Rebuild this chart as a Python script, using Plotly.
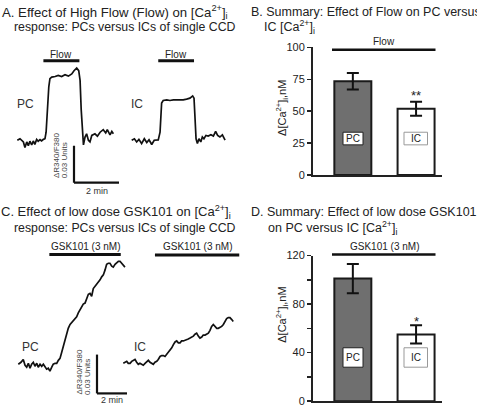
import plotly.graph_objects as go

W, H = 477, 413

# ---------------- data ----------------
# Panel A: high flow; time (min) vs ΔR340/F380 (ratio units)
a_pc_t = [0.00, 0.12, 0.27, 0.34, 0.42, 0.49, 0.56, 0.64, 0.71, 0.78,
          0.86, 0.93, 1.01, 1.08, 1.16, 1.23, 1.28, 1.33, 1.40, 1.45,
          1.53, 1.68, 1.82, 1.97, 2.12, 2.27, 2.42, 2.52, 2.64, 2.73,
          2.79, 2.84, 2.91, 2.94, 3.01, 3.08, 3.16, 3.23, 3.31, 3.45,
          3.56, 3.68, 3.82, 3.93, 4.00, 4.12, 4.20, 4.27]
a_pc_r = [0.0013, 0.0026, 0.0000, -0.0045, 0.0000, -0.0030, 0.0006, -0.0025, 0.0008, -0.0020,
          0.0021, 0.0006, 0.0018, 0.0008, 0.0021, 0.0026, 0.0079, 0.0263, 0.0448, 0.0514,
          0.0527, 0.0532, 0.0540, 0.0532, 0.0547, 0.0535, 0.0553, 0.0579, 0.0600, 0.0579,
          0.0500, 0.0263, 0.0053, -0.0024, 0.0040, 0.0066, 0.0013, 0.0000, 0.0053, 0.0066,
          0.0047, 0.0079, 0.0100, 0.0073, 0.0100, 0.0058, 0.0085, 0.0066]
a_ic_t = [0.00, 0.12, 0.22, 0.32, 0.44, 0.56, 0.67, 0.77, 0.89, 1.00,
          1.18, 1.26, 1.33, 1.40, 1.56, 1.70, 1.85, 2.00, 2.15, 2.29,
          2.44, 2.59, 2.71, 2.77, 2.81, 2.86, 2.92, 2.99, 3.07, 3.14,
          3.21, 3.30, 3.40, 3.52, 3.63, 3.73, 3.82, 3.92, 4.03, 4.15]
a_ic_r = [0.0006, 0.0018, -0.0008, 0.0013, -0.0021, 0.0018, -0.0013, 0.0010, -0.0029, 0.0006,
          0.0008, 0.0071, 0.0308, 0.0329, 0.0334, 0.0329, 0.0334, 0.0332, 0.0334, 0.0334,
          0.0340, 0.0348, 0.0366, 0.0348, 0.0203, 0.0018, -0.0021, 0.0018, -0.0008, 0.0032,
          0.0018, 0.0045, 0.0040, 0.0050, 0.0040, 0.0077, 0.0045, 0.0032, 0.0050, 0.0006]
a_flow_pc = [1.16, 2.76]
a_flow_ic = [1.18, 2.77]

# Panel C: low dose GSK101
c_pc_t = [0.00, 0.18, 0.33, 0.45, 0.56, 0.67, 0.78, 0.89, 1.00, 1.11,
          1.23, 1.33, 1.45, 1.56, 1.67, 1.78, 1.89, 2.00, 2.11, 2.23,
          2.33, 2.45, 2.56, 2.67, 2.78, 2.89, 3.00, 3.11, 3.23, 3.33,
          3.45, 3.56, 3.67, 3.78, 3.89, 4.00, 4.11, 4.23, 4.33, 4.45,
          4.56, 4.67, 4.78, 4.89, 5.00, 5.11, 5.23, 5.33, 5.45, 5.56,
          5.67, 5.78, 5.89, 6.00, 6.11, 6.23, 6.33, 6.45, 6.56, 6.67,
          6.78, 6.89, 7.00, 7.11]
c_pc_r = [0.0008, 0.0023, 0.0045, 0.0000, -0.0015, 0.0015, -0.0023, 0.0008, 0.0023, -0.0008,
          0.0015, -0.0015, 0.0008, -0.0008, 0.0008, -0.0015, -0.0030, -0.0023, -0.0045, -0.0015,
          0.0008, 0.0015, 0.0015, 0.0038, 0.0053, 0.0098, 0.0150, 0.0203, 0.0248, 0.0285,
          0.0315, 0.0330, 0.0338, 0.0360, 0.0375, 0.0405, 0.0428, 0.0450, 0.0473, 0.0480,
          0.0510, 0.0548, 0.0555, 0.0533, 0.0593, 0.0608, 0.0623, 0.0645, 0.0660, 0.0683,
          0.0698, 0.0735, 0.0780, 0.0788, 0.0788, 0.0765, 0.0758, 0.0780, 0.0795, 0.0803,
          0.0803, 0.0788, 0.0773, 0.0758]
c_ic_t = [0.00, 0.11, 0.23, 0.33, 0.45, 0.56, 0.67, 0.78, 0.89, 1.00,
          1.11, 1.23, 1.33, 1.45, 1.56, 1.67, 1.78, 1.89, 2.00, 2.11,
          2.23, 2.33, 2.45, 2.56, 2.67, 2.78, 2.89, 3.00, 3.11, 3.23,
          3.33, 3.45, 3.56, 3.67, 3.78, 3.89, 4.00, 4.11, 4.23, 4.33,
          4.45, 4.56, 4.67, 4.78, 4.89, 5.00, 5.11, 5.23, 5.33, 5.45,
          5.56, 5.67, 5.78, 5.89, 6.00, 6.11, 6.23, 6.33, 6.45, 6.56,
          6.67, 6.78, 6.89, 7.00, 7.11, 7.23, 7.33]
c_ic_r = [0.0000, 0.0008, 0.0015, 0.0000, 0.0000, 0.0015, 0.0023, 0.0030, 0.0008, -0.0008,
          0.0000, -0.0008, -0.0015, 0.0000, 0.0015, 0.0023, 0.0008, 0.0000, -0.0008, 0.0008,
          0.0015, 0.0030, 0.0053, 0.0060, 0.0060, 0.0053, 0.0068, 0.0083, 0.0098, 0.0120,
          0.0143, 0.0165, 0.0173, 0.0158, 0.0158, 0.0173, 0.0173, 0.0180, 0.0188, 0.0188,
          0.0195, 0.0203, 0.0210, 0.0225, 0.0233, 0.0210, 0.0195, 0.0203, 0.0218, 0.0218,
          0.0225, 0.0233, 0.0255, 0.0285, 0.0300, 0.0285, 0.0270, 0.0270, 0.0278, 0.0285,
          0.0300, 0.0323, 0.0345, 0.0353, 0.0353, 0.0338, 0.0323]
c_gsk_pc = [2.07, 6.83]
c_gsk_ic = [2.11, 7.73]

scale_time = 2       # min
scale_ratio = 0.03   # ΔR340/F380 units

# Panels B and D: summary bars
cells = ["PC", "IC"]
b_mean = [73.5, 52.0]
b_sem = [6.5, 5.5]
b_ticks = [0, 25, 50, 75, 100]
d_mean = [101.0, 55.0]
d_sem = [12.0, 7.5]
d_ticks = [0, 20, 40, 60, 80, 100, 120]
d_ticklabels = ["0", "", "40", "", "80", "", "120"]
b_sig = "**"
d_sig = "*"

# ---------------- layout helpers ----------------
FONT = "Liberation Sans, Arial, sans-serif"
TXT = "#222222"


def fx(p):
    return p / W


def fy(p):
    return 1 - p / H


# trace panel geometry in pixels: x of t=0, px per min, y of r=0, px per unit, domains
geo = {
    1: dict(x0=17.3, sx=22.5, y0=140, sy=1267, dx=(2, 128), dy=(35, 200)),
    2: dict(x0=131.7, sx=22.5, y0=139, sy=1267, dx=(118, 242), dy=(35, 200)),
    3: dict(x0=18.3, sx=15.0, y0=370, sy=1333, dx=(2, 135), dy=(245, 413)),
    4: dict(x0=123.3, sx=15.0, y0=368, sy=1333, dx=(112, 245), dy=(245, 413)),
}


def tx(i, p):
    g = geo[i]
    return (p - g["x0"]) / g["sx"]


def ry(i, p):
    g = geo[i]
    return (g["y0"] - p) / g["sy"]


fig = go.Figure()
layout = dict(width=W, height=H, margin=dict(l=0, r=0, t=0, b=0),
              paper_bgcolor="white", plot_bgcolor="rgba(0,0,0,0)",
              showlegend=False, font=dict(family=FONT, color=TXT, size=12))

for i, g in geo.items():
    sfx = "" if i == 1 else str(i)
    layout["xaxis" + sfx] = dict(domain=[fx(g["dx"][0]), fx(g["dx"][1])],
                                 range=[tx(i, g["dx"][0]), tx(i, g["dx"][1])],
                                 visible=False, anchor="y" + sfx)
    layout["yaxis" + sfx] = dict(domain=[fy(g["dy"][1]), fy(g["dy"][0])],
                                 range=[ry(i, g["dy"][1]), ry(i, g["dy"][0])],
                                 visible=False, anchor="x" + sfx)

traces = [(1, a_pc_t, a_pc_r), (2, a_ic_t, a_ic_r), (3, c_pc_t, c_pc_r), (4, c_ic_t, c_ic_r)]
for i, t, r in traces:
    sfx = "" if i == 1 else str(i)
    fig.add_trace(go.Scatter(x=t, y=r, xaxis="x" + sfx, yaxis="y" + sfx, mode="lines",
                             line=dict(color="#111111", width=1.7), cliponaxis=False,
                             hoverinfo="skip"))

shapes = []
anns = []


def ann(text, x, y, size, xanchor="center", yanchor="middle", angle=0, xref="paper",
        yref="paper", color=TXT):
    anns.append(dict(text=text, x=x, y=y, xref=xref, yref=yref, showarrow=False,
                     xanchor=xanchor, yanchor=yanchor, textangle=angle,
                     font=dict(size=size, color=color, family=FONT)))


# stimulus bars
stims = [(1, a_flow_pc, "Flow", 56.5, 49.5), (2, a_flow_ic, "Flow", 56.5, 49.5),
         (3, c_gsk_pc, "GSK101 (3 nM)", 256, 248), (4, c_gsk_ic, "GSK101 (3 nM)", 256.5, 248)]
for i, (t0, t1), label, ypx, lypx in stims:
    sfx = "" if i == 1 else str(i)
    shapes.append(dict(type="line", xref="x" + sfx, yref="paper", x0=t0, x1=t1,
                       y0=fy(ypx), y1=fy(ypx), line=dict(color="#111111", width=3)))
    ann(label, (t0 + t1) / 2, fy(lypx), 10, xref="x" + sfx)

# scale bars (anchored in PC trace axes)
for i, cx, cy in [(1, 74, 182), (3, 97, 399)]:
    sfx = "" if i == 1 else str(i)
    t0, r0 = tx(i, cx), ry(i, cy)
    shapes.append(dict(type="line", xref="x" + sfx, yref="y" + sfx, x0=t0, x1=t0,
                       y0=r0, y1=r0 + scale_ratio, line=dict(color="#111111", width=2.2)))
    shapes.append(dict(type="line", xref="x" + sfx, yref="y" + sfx, x0=t0, x1=t0 + scale_time,
                       y0=r0, y1=r0, line=dict(color="#111111", width=2.2)))

ann("2 min", fx(96.5), fy(190.5), 9, color="#333")
ann("ΔR340/F380", fx(56.5), fy(154), 8, angle=-90, color="#444")
ann("0.03 Units", fx(64.5), fy(159.5), 8, angle=-90, color="#444")
ann("2 min", fx(112), fy(405.5), 9, color="#333")
ann("ΔR340/F380", fx(79.5), fy(377), 8, angle=-90, color="#444")
ann("0.03 Units", fx(87.5), fy(382.5), 8, angle=-90, color="#444")

# trace labels
ann("PC", fx(25.5), fy(101), 12, color="#333")
ann("IC", fx(136.5), fy(101), 12, color="#333")
ann("PC", fx(30.5), fy(351), 12, color="#333")
ann("IC", fx(140), fy(351), 12, color="#333")

# titles
sup = "[Ca<sup>2+</sup>]<sub>i</sub>"
ann("A. Effect of High Flow (Flow) on " + sup, fx(0), fy(6.5), 13.2, xanchor="left")
ann("response: PCs versus ICs of single CCD", fx(12), fy(22), 12.3, xanchor="left")
ann("B. Summary: Effect of Flow on PC versus", fx(249), fy(6.5), 12.5, xanchor="left")
ann("IC " + sup, fx(262), fy(22), 12.5, xanchor="left")
ann("C. Effect of low dose GSK101 on " + sup, fx(-1), fy(212.5), 13, xanchor="left")
ann("response: PCs versus ICs of single CCD", fx(11.5), fy(229), 12.3, xanchor="left")
ann("D. Summary: Effect of low dose GSK101", fx(248.5), fy(212.5), 12.5, xanchor="left")
ann("on PC versus IC " + sup, fx(266), fy(229), 12.5, xanchor="left")

# bar panels
bar_panels = [
    (5, b_mean, b_sem, b_ticks, [str(v) for v in b_ticks], 100, (42.7, 174), b_sig,
     "Flow", 45, 37, 92, 105, (130, 143)),
    (6, d_mean, d_sem, d_ticks, d_ticklabels, 120, (257, 407), d_sig,
     "GSK101 (3 nM)", 256, 247.5, 325, 318, (352, 372)),
]
for i, mean, sem, ticks, tlabels, ymax, (ytop, ybot), sig, slabel, sly, sty, asty, ttly, (bt, bb) in bar_panels:
    sfx = str(i)
    layout["xaxis" + sfx] = dict(domain=[fx(313), fx(442)], range=[-0.63, 1.41],
                                 type="category", showline=True, linewidth=2, linecolor="#222",
                                 showticklabels=False, ticks="", showgrid=False,
                                 zeroline=False, anchor="y" + sfx)
    layout["yaxis" + sfx] = dict(domain=[fy(ybot), fy(ytop)], range=[0, ymax],
                                 tickvals=ticks, ticktext=tlabels, ticks="outside",
                                 ticklen=4, tickwidth=1.5, tickcolor="#222",
                                 showline=True, linewidth=2, linecolor="#222",
                                 showgrid=False, zeroline=False,
                                 tickfont=dict(size=11, color=TXT, family=FONT),
                                 anchor="x" + sfx)
    fig.add_trace(go.Bar(x=cells, y=mean, xaxis="x" + sfx, yaxis="y" + sfx, width=0.585,
                         marker=dict(color=["#6f6f6f", "#ffffff"],
                                     line=dict(color="#1a1a1a", width=2)),
                         error_y=dict(type="data", array=sem, color="#111111",
                                      thickness=2, width=6),
                         hoverinfo="skip"))
    # significance line and label
    shapes.append(dict(type="line", xref="paper", yref="paper", x0=fx(332), x1=fx(435.5),
                       y0=fy(sly), y1=fy(sly), line=dict(color="#111111", width=2.5)))
    ann(slabel, fx(384), fy(sty), 10)
    ann(sig, fx(416), fy(asty), 13)
    ann("Δ" + sup + ",nM", fx(282), fy(ttly), 11, angle=-90)
    # cell label boxes inside bars
    for (x0, x1), name, bc in [((343, 363), cells[0], "#222"), ((404, 427.5), cells[1], "#999")]:
        shapes.append(dict(type="rect", xref="paper", yref="paper", x0=fx(x0), x1=fx(x1),
                           y0=fy(bb), y1=fy(bt), fillcolor="white",
                           line=dict(color=bc, width=1)))
        ann(name, fx((x0 + x1) / 2), fy((bt + bb) / 2), 10)

layout["shapes"] = shapes
layout["annotations"] = anns
fig.update_layout(**layout)
fig.write_html("out.html", config={"displayModeBar": False, "staticPlot": True},
               post_script="document.body.style.margin='0';document.body.style.overflow='hidden';")
